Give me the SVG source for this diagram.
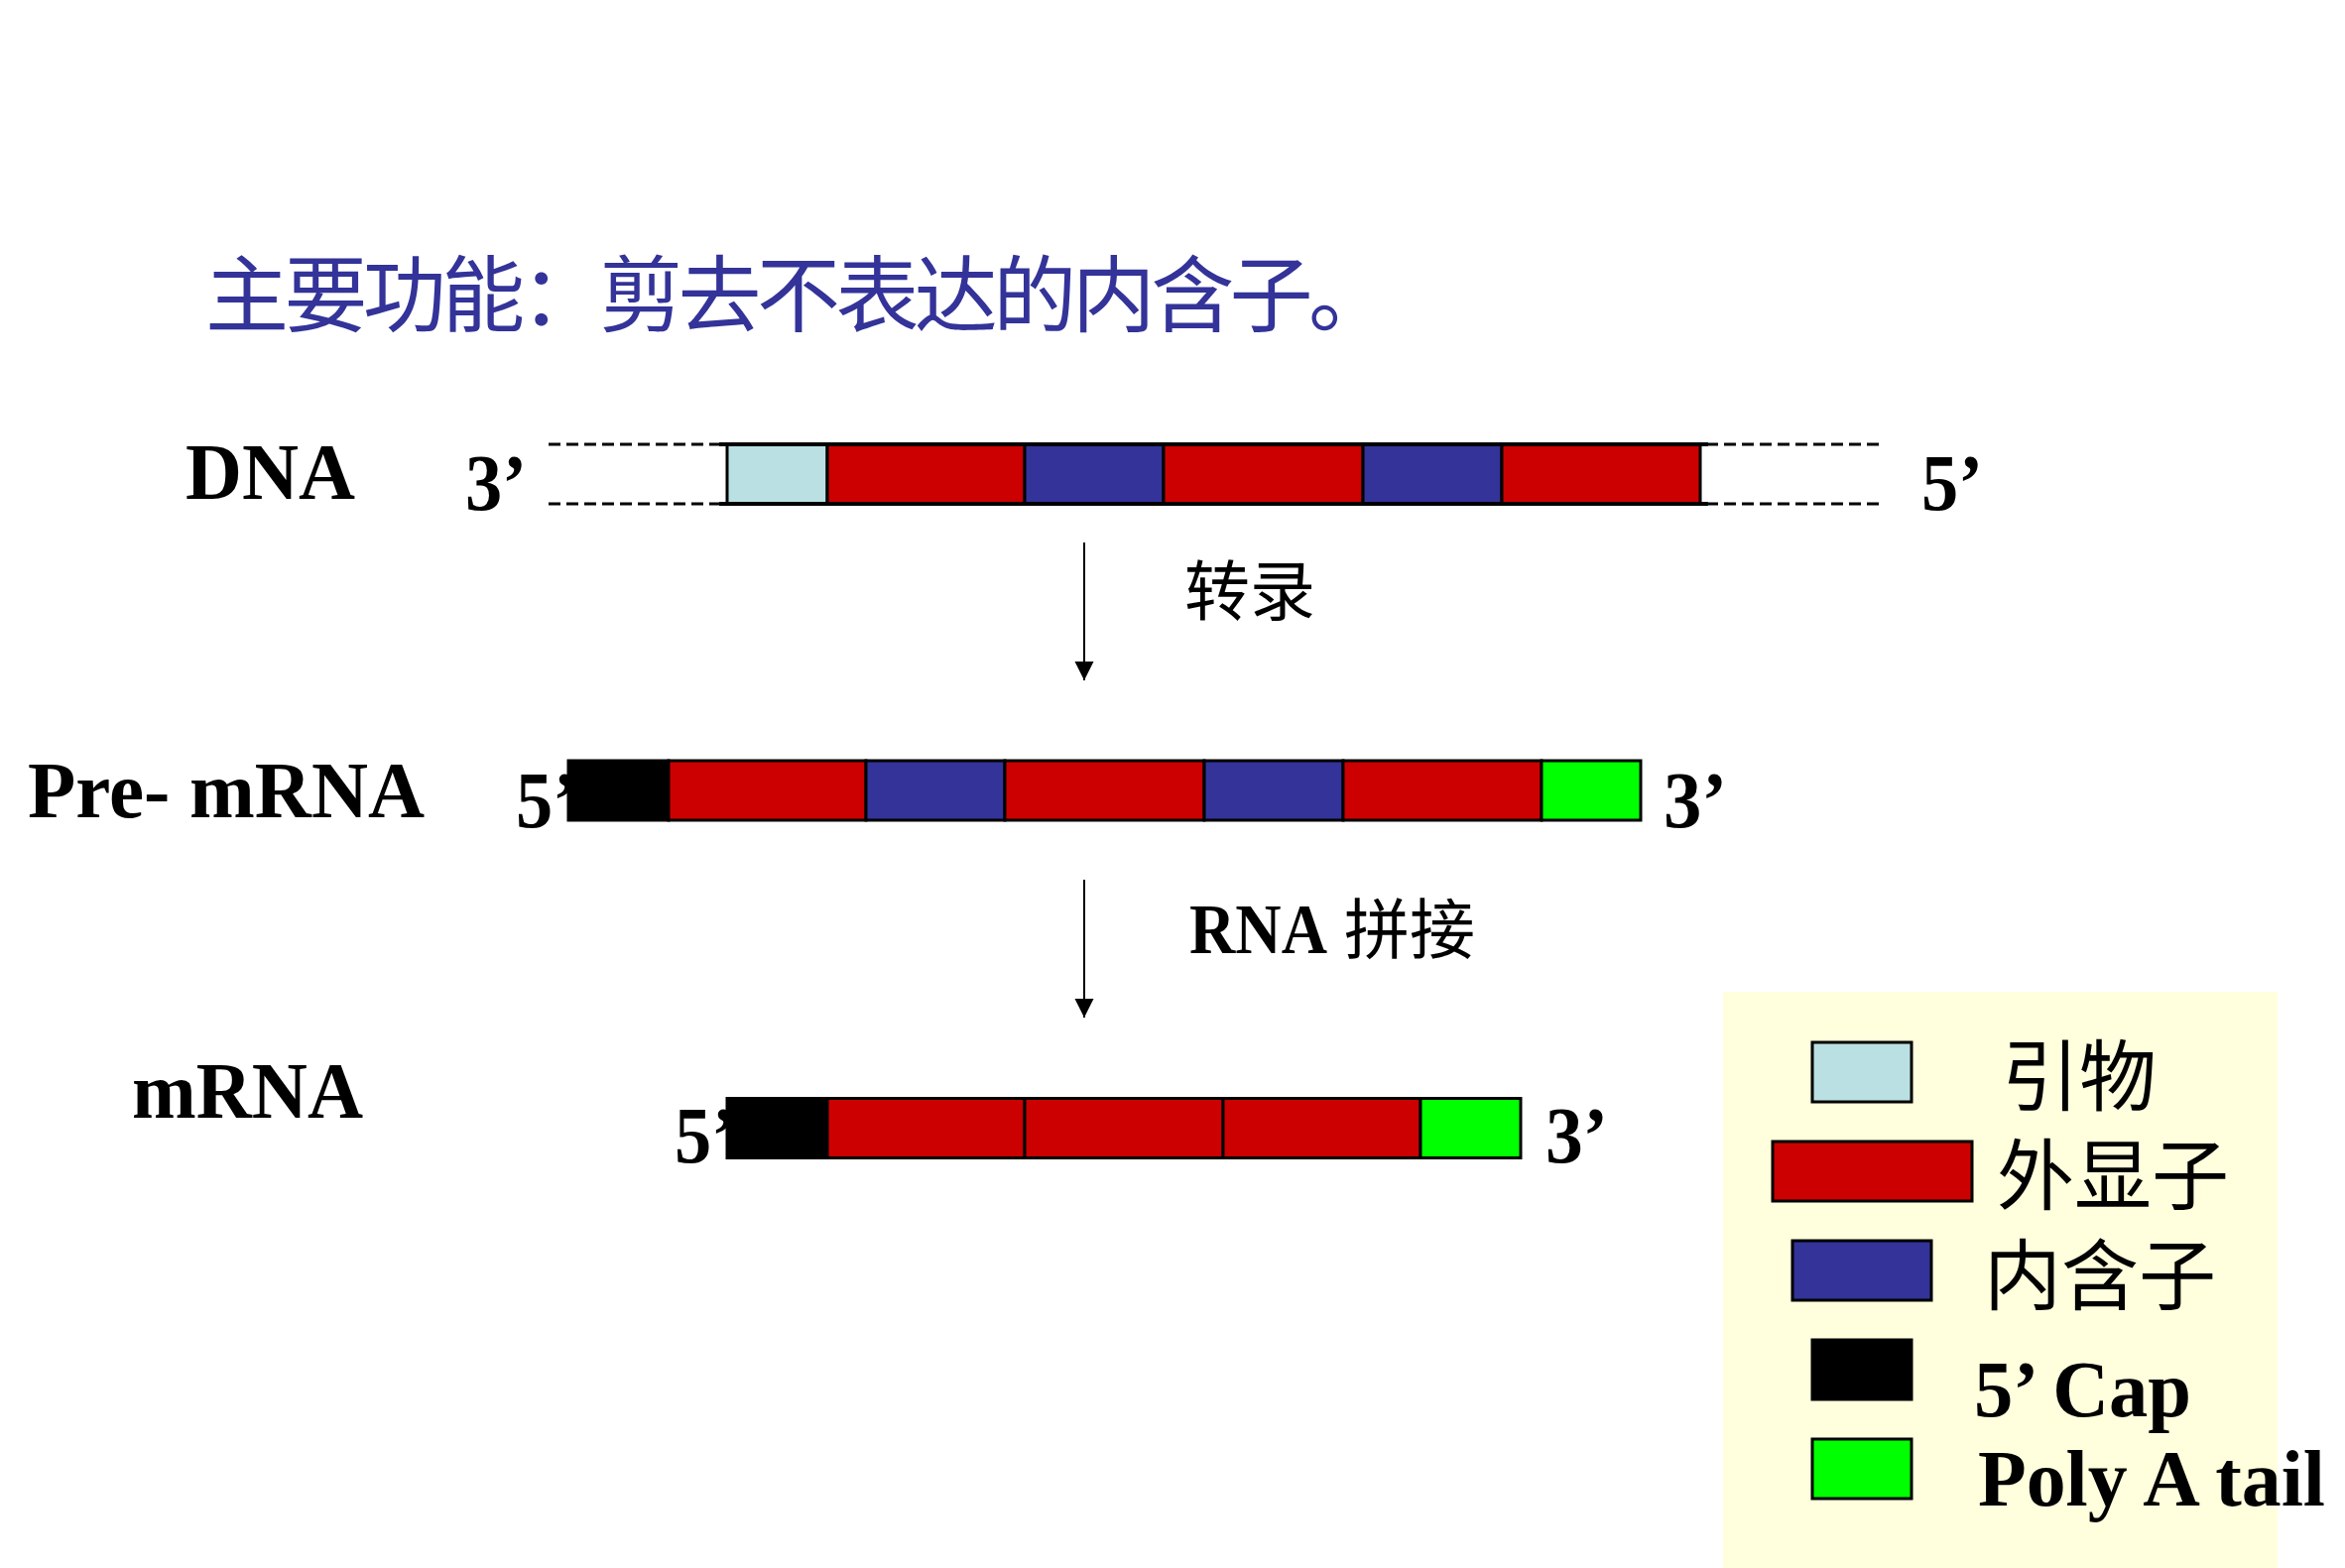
<svg xmlns="http://www.w3.org/2000/svg" width="2364" height="1581" viewBox="0 0 2364 1581">
<style>
.lat{font-family:"Liberation Serif","Times New Roman",serif;font-weight:bold;font-size:80px;fill:#000}
.cjk{font-family:"Noto Sans CJK SC",sans-serif;fill:#000}
.seg{stroke:#000;stroke-width:3}
.ex{fill:#CC0000}
.in{fill:#333399}
.pr{fill:#BBE0E3}
.cap{fill:#000}
.pa{fill:#00FF00}
.dash{stroke:#000;stroke-width:3;stroke-dasharray:12 6;fill:none}
.edge{stroke:#000;stroke-width:4;fill:none}
.arr{stroke:#000;stroke-width:2;fill:none;marker-end:url(#ah)}
</style>
<defs>
<marker id="ah" markerUnits="userSpaceOnUse" markerWidth="20" markerHeight="20" refX="19" refY="9.5" orient="auto" viewBox="0 0 20 20">
<path d="M0,0 L19,9.5 L0,19 z" fill="#000"/>
</marker>
</defs>
<rect width="2364" height="1581" fill="#fff"/>

<g id="title">
<text class="cjk" x="207" y="328" font-size="84" style="fill:#333399" textLength="1196" lengthAdjust="spacing">主要功能：剪去不表达的内含子。</text>
</g>

<g id="dna">
<text class="lat" x="187" y="503" textLength="171" lengthAdjust="spacingAndGlyphs">DNA</text>
<text class="lat" x="469" y="514" textLength="62" lengthAdjust="spacingAndGlyphs">3’</text>
<path class="dash" d="M553,448 H727 M553,508 H727 M1720,448 H1894 M1720,508 H1894"/>
<rect class="seg pr" x="733" y="448" width="101" height="60"/>
<rect class="seg ex" x="834" y="448" width="199" height="60"/>
<rect class="seg in" x="1033" y="448" width="140" height="60"/>
<rect class="seg ex" x="1173" y="448" width="201" height="60"/>
<rect class="seg in" x="1374" y="448" width="140" height="60"/>
<rect class="seg ex" x="1514" y="448" width="200" height="60"/>
<path class="edge" d="M725,448 H1722 M725,508 H1722"/>
<text class="lat" x="1937" y="514" textLength="62" lengthAdjust="spacingAndGlyphs">5’</text>
</g>

<g id="pre-mrna">
<text class="lat" x="28" y="824" textLength="400" lengthAdjust="spacingAndGlyphs">Pre- mRNA</text>
<text class="lat" x="520" y="834" textLength="62" lengthAdjust="spacingAndGlyphs">5’</text>
<rect class="seg cap" x="573" y="767" width="101" height="60"/>
<rect class="seg ex" x="674" y="767" width="199" height="60"/>
<rect class="seg in" x="873" y="767" width="140" height="60"/>
<rect class="seg ex" x="1013" y="767" width="201" height="60"/>
<rect class="seg in" x="1214" y="767" width="140" height="60"/>
<rect class="seg ex" x="1354" y="767" width="200" height="60"/>
<rect class="seg pa" x="1554" y="767" width="100" height="60"/>
<text class="lat" x="1677" y="834" textLength="64" lengthAdjust="spacingAndGlyphs">3’</text>
</g>

<g id="mrna">
<text class="lat" x="133" y="1127" textLength="233" lengthAdjust="spacingAndGlyphs">mRNA</text>
<text class="lat" x="680" y="1172" textLength="62" lengthAdjust="spacingAndGlyphs">5’</text>
<rect class="seg cap" x="733" y="1107.5" width="101" height="60"/>
<rect class="seg ex" x="834" y="1107.5" width="199" height="60"/>
<rect class="seg ex" x="1033" y="1107.5" width="200" height="60"/>
<rect class="seg ex" x="1233" y="1107.5" width="199" height="60"/>
<rect class="seg pa" x="1432" y="1107.5" width="101" height="60"/>
<text class="lat" x="1558" y="1172" textLength="63" lengthAdjust="spacingAndGlyphs">3’</text>
</g>

<g id="connectors">
<line class="arr" x1="1093" y1="547" x2="1093" y2="686"/>
<line class="arr" x1="1093" y1="887" x2="1093" y2="1026"/>
</g>

<g id="label-transcription">
<text class="cjk" x="1194" y="620" font-size="66">转录</text>
</g>

<g id="label-splicing">
<text x="1199" y="961"><tspan class="lat" style="font-size:72px" textLength="139" lengthAdjust="spacingAndGlyphs">RNA</tspan><tspan class="cjk" font-size="66" dx="17">拼接</tspan></text>
</g>

<g id="legend">
<rect x="1737" y="1000" width="559" height="581" fill="#FFFFDD"/>
<rect class="seg pr" x="1827" y="1051" width="100" height="60"/>
<text class="cjk" x="2018" y="1114" font-size="78">引物</text>
<rect class="seg ex" x="1787" y="1151" width="201" height="60"/>
<text class="cjk" x="2013" y="1214" font-size="78">外显子</text>
<rect class="seg in" x="1807" y="1251" width="140" height="60"/>
<text class="cjk" x="2000" y="1315" font-size="78">内含子</text>
<rect class="seg cap" x="1827" y="1351" width="100" height="60"/>
<text class="lat" x="1990" y="1428" textLength="219" lengthAdjust="spacingAndGlyphs">5’ Cap</text>
<rect class="seg pa" x="1827" y="1451" width="100" height="60"/>
<text class="lat" x="1994" y="1518" font-size="78" textLength="350" lengthAdjust="spacingAndGlyphs">Poly A tail</text>
</g>
</svg>
